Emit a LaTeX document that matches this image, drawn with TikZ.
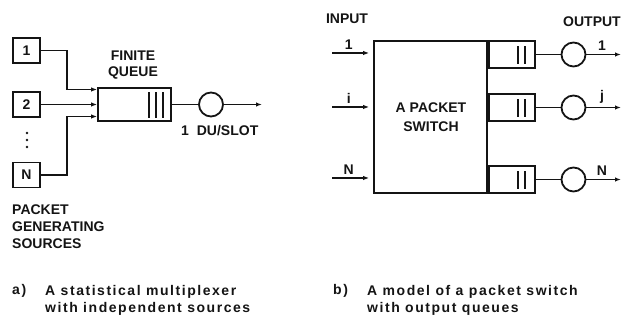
\documentclass[tikz,border=0pt]{standalone}
\usepackage{fontspec}
\setmainfont{Liberation Sans}
\newfontfamily\capfont{Liberation Sans}[LetterSpace=11]
\usetikzlibrary{arrows.meta,positioning}
\definecolor{figline}{RGB}{20,20,20}
\tikzset{
  sc/.style    ={draw=figline, line width=1.8pt},
  ptr/.style   ={draw=figline, line width=1.8pt, -{Latex[length=6pt,width=4.5pt]}},
  lab/.style   ={font=\fontsize{14}{16}\selectfont\bfseries, text=figline, inner sep=0pt},
  srcbox/.style={sc, lab, minimum width=27pt, minimum height=25pt},
  qbox/.style  ={sc, minimum width=46pt, minimum height=27pt, inner sep=0pt},
  srv/.style   ={sc, circle, minimum size=24pt, inner sep=0pt},
  captxt/.style={font=\capfont\fontsize{14}{17}\selectfont\bfseries, text=figline, inner sep=0pt, align=left},
}

\begin{document}
\begin{tikzpicture}[x=1pt,y=1pt]
  \useasboundingbox (0,0) rectangle (622,321);
  % a) multiplexer
  \node[srcbox] (src1) at (26.5,270.5) {1};
  \node[srcbox] (src2) at (26.5,216.5) {2};
  \node[srcbox] (srcN) at (26.5,146) {N};
  \fill[figline] (27,188) circle (1.3pt);
  \fill[figline] (27,181) circle (1.3pt);
  \fill[figline] (27,174) circle (1.3pt);
  \node[sc, minimum width=73pt, minimum height=33pt, inner sep=0pt] (que) at (134.5,216.5) {};
  \draw[sc] ([xshift=-23pt,yshift=-5pt]que.north east) -- ([xshift=-23pt,yshift=4pt]que.south east);
  \draw[sc] ([xshift=-16pt,yshift=-5pt]que.north east) -- ([xshift=-16pt,yshift=4pt]que.south east);
  \draw[sc] ([xshift=-9pt,yshift=-5pt]que.north east) -- ([xshift=-9pt,yshift=4pt]que.south east);
  \draw[ptr] (src1.east) -- ++(26,0) |- ([yshift=15pt]que.west);
  \draw[ptr] (src2.east) -- (que.west);
  \draw[ptr] (srcN.east) -- ++(26,0) |- ([yshift=-12pt]que.west);
  \node[srv] (mux) at (211,216.5) {};
  \coordinate (muxout) at (262,216.5);
  \draw[sc] (que.east) -- (mux.west);
  \draw[ptr] (mux.east) -- (muxout);
  \node[lab, align=center] (qlab) at (133,256) {FINITE\\QUEUE};
  \node[lab, anchor=west] (rate) at (181,190) {1\hspace{4pt} DU/SLOT};
  \node[lab, align=left, anchor=west, font=\fontsize{14}{17}\selectfont\bfseries] (srclab) at (12,94) {PACKET\\GENERATING\\SOURCES};
  \node[captxt, anchor=west] (capa) at (12,30) {a)};
  \node[captxt, anchor=north west] (capatxt) at (45,36) {A statistical multiplexer\\with independent sources};
  % b) packet switch
  \node[lab] (inlab) at (347,302) {INPUT};
  \node[lab, anchor=west] (outlab) at (563,299) {OUTPUT};
  \node[sc, minimum width=113pt, minimum height=152pt, inner sep=0pt] (sw) at (430.5,204) {};
  \node[lab, align=center, font=\fontsize{14}{19}\selectfont\bfseries] (swlab) at (431,203.5) {A PACKET\\SWITCH};
  \coordinate (in1) at (332,268);
  \coordinate (ini) at (332,214);
  \coordinate (inN) at (332,143);
  \draw[ptr] (in1) -- ([xshift=-4pt]sw.west |- in1) node[lab, pos=0.45, above=3pt] (inl1) {1};
  \draw[ptr] (ini) -- ([xshift=-4pt]sw.west |- ini) node[lab, pos=0.45, above=3pt] (inli) {i};
  \draw[ptr] (inN) -- ([xshift=-4pt]sw.west |- inN) node[lab, pos=0.45, above=3pt] (inlN) {N};
  \node[qbox, anchor=north west] (oq1) at (sw.north east) {};
  \node[qbox, anchor=west] (oqj) at (sw.east |- 0,213.5) {};
  \node[qbox, anchor=south west] (oqN) at (sw.south east) {};
  \draw[sc] ([xshift=-18pt,yshift=-6pt]oq1.north east) -- ([xshift=-18pt,yshift=5pt]oq1.south east);
  \draw[sc] ([xshift=-11pt,yshift=-6pt]oq1.north east) -- ([xshift=-11pt,yshift=5pt]oq1.south east);
  \draw[sc] ([xshift=-18pt,yshift=-6pt]oqj.north east) -- ([xshift=-18pt,yshift=5pt]oqj.south east);
  \draw[sc] ([xshift=-11pt,yshift=-6pt]oqj.north east) -- ([xshift=-11pt,yshift=5pt]oqj.south east);
  \draw[sc] ([xshift=-18pt,yshift=-6pt]oqN.north east) -- ([xshift=-18pt,yshift=5pt]oqN.south east);
  \draw[sc] ([xshift=-11pt,yshift=-6pt]oqN.north east) -- ([xshift=-11pt,yshift=5pt]oqN.south east);
  \node[srv] (os1) at (573.5,266.5) {};
  \node[srv] (osj) at (573.5,213.5) {};
  \node[srv] (osN) at (573.5,141.5) {};
  \draw[sc] (oq1.east) -- (os1.west);
  \draw[sc] (oqj.east) -- (osj.west);
  \draw[sc] (oqN.east) -- (osN.west);
  \coordinate (out1) at (621,266.5);
  \coordinate (outj) at (621,213.5);
  \coordinate (outN) at (621,141.5);
  \draw[ptr] (os1.east) -- (out1) node[lab, pos=0.45, above=3pt] (outl1) {1};
  \draw[ptr] (osj.east) -- (outj) node[lab, pos=0.45, above=3pt] (outlj) {j};
  \draw[ptr] (osN.east) -- (outN) node[lab, pos=0.45, above=3pt] (outlN) {N};
  \node[captxt, anchor=west] (capb) at (333,30) {b)};
  \node[captxt, anchor=north west] (capbtxt) at (367,36) {A model of a packet switch\\with output queues};
\end{tikzpicture}
\end{document}
